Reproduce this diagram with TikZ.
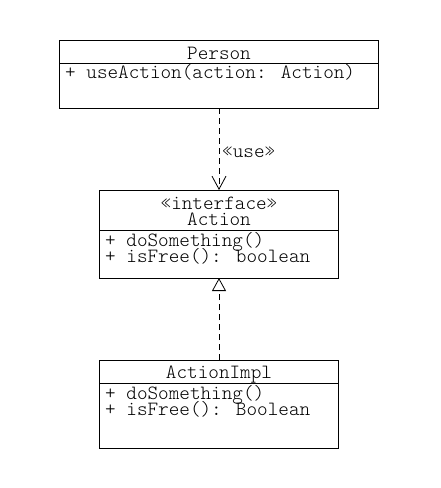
\documentclass[tikz,border=0pt]{standalone}
\usepackage{fontspec}
\newfontfamily\umlfont{Latin Modern Mono Light}
\usetikzlibrary{arrows.meta}
\begin{document}
\begin{tikzpicture}[x=1pt,y=-1pt,
  umlbox/.style={draw, line width=0.8pt, inner sep=0pt, outer sep=0pt, anchor=north west},
  txt/.style={inner sep=0pt, text height=11pt, text depth=3pt, font=\umlfont\fontsize{20.2}{16}\selectfont},
  divider/.style={line width=0.8pt},
  depline/.style={line width=0.8pt, dash pattern=on 6pt off 4pt}]
\useasboundingbox (0,0) rectangle (441,488);
% boxes
\node[umlbox, minimum width=319pt, minimum height=68pt] (person) at (59.5,40) {};
\node[umlbox, minimum width=239pt, minimum height=88pt] (action) at (99.5,190) {};
\node[umlbox, minimum width=239pt, minimum height=88pt] (impl) at (99.5,360) {};
% dividers
\draw[divider] (person.west |- 0,63.5) -- (person.east |- 0,63.5);
\draw[divider] (action.west |- 0,230.5) -- (action.east |- 0,230.5);
\draw[divider] (impl.west |- 0,383.5) -- (impl.east |- 0,383.5);
% texts
\node[txt, anchor=base] (personname) at (219,59) {Person};
\node[txt, anchor=base west] (personop) at (65,78) {+ useAction(action: Action)};
\node[txt, anchor=base] (actionstereo) at (219,209) {«interface»};
\node[txt, anchor=base] (actionname) at (219,225) {Action};
\node[txt, anchor=base west] (actionop1) at (105,246.5) {+ doSomething()};
\node[txt, anchor=base west] (actionop2) at (105,262.5) {+ isFree(): boolean};
\node[txt, anchor=base] (implname) at (219,378) {ActionImpl};
\node[txt, anchor=base west] (implop1) at (105,399) {+ doSomething()};
\node[txt, anchor=base west] (implop2) at (105,415) {+ isFree(): Boolean};
% connectors
\draw[depline, -{Straight Barb[length=13pt,width=14pt,line width=0.8pt]}] (person.south) -- (action.north);
\node[txt, anchor=base west] (uselabel) at (222,157) {«use»};
\draw[depline, -{Triangle[open,length=13pt,width=14pt,line width=0.8pt,fill=white]}] (impl.north) -- (action.south);
\end{tikzpicture}
\end{document}
